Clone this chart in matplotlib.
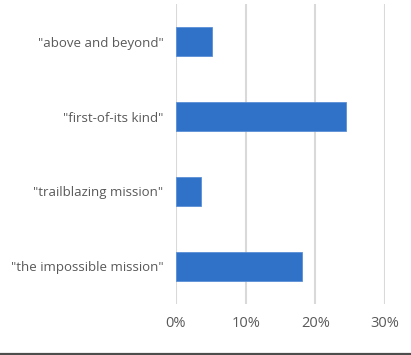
import matplotlib.pyplot as plt
from matplotlib.ticker import FuncFormatter

phrases = ['"above and beyond"', '"first-of-its kind"', '"trailblazing mission"', '"the impossible mission"']
shares = [5.2, 24.4, 3.6, 18.1]  # percent
xticks = [0, 10, 20, 30]

fig = plt.figure(figsize=(4.11, 3.55), dpi=100)
ax = fig.add_axes([0.4282, 0.1437, 0.5085, 0.845])

ypos = list(range(len(phrases)))
ax.barh(ypos, shares, height=0.39, color='#3172c9', edgecolor='#5b8fd6', linewidth=0.6, zorder=3)

ax.set_xlim(0, 30)
ax.set_ylim(3.5, -0.5)
ax.set_xticks(xticks)
ax.xaxis.set_major_formatter(FuncFormatter(lambda v, p: f'{v:.0f}%'))
ax.set_yticks(ypos)
ax.set_yticklabels(phrases)

ax.grid(axis='x', color='#d9d9d9', linewidth=1.5, zorder=0)
for s in ax.spines.values():
    s.set_visible(False)
ax.tick_params(length=0, labelcolor='#595959')
ax.tick_params(axis='x', pad=9, labelsize=10.5)
ax.tick_params(axis='y', pad=9, labelsize=9.5)
for lab in ax.get_xticklabels() + ax.get_yticklabels():
    lab.set_family('Open Sans')
    lab.set_weight('medium')

# dark rule along the bottom edge
fig.add_artist(plt.Line2D([0, 1], [0.004, 0.004], color='#4d4d4d', linewidth=1.6))

fig.savefig('out.png', dpi=100)
